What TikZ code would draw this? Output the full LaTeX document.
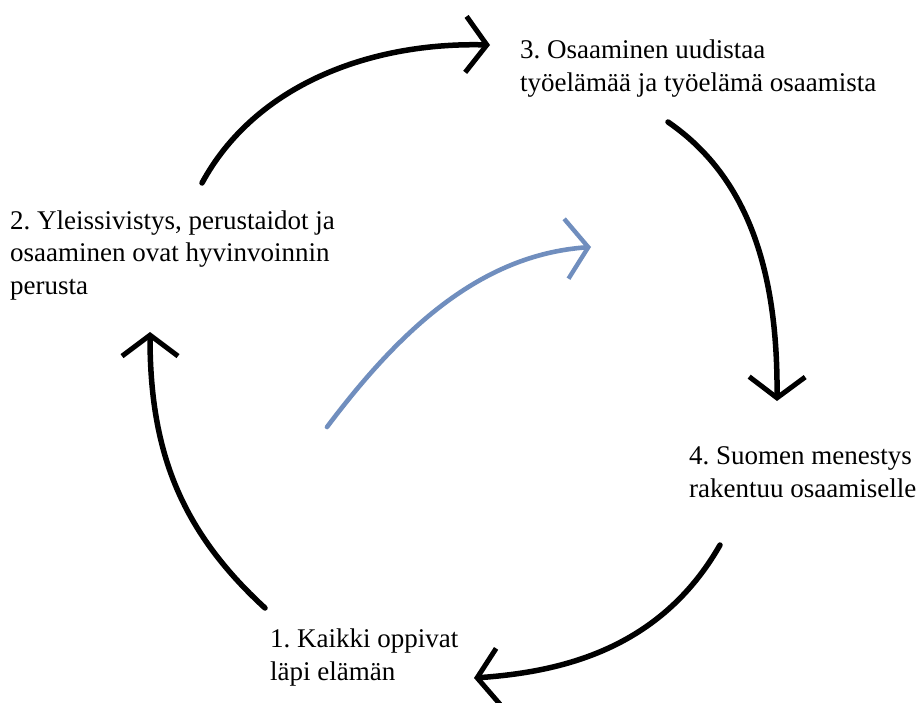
\documentclass[tikz,border=0pt]{standalone}
\usepackage{fontspec}
\setmainfont{Liberation Serif}
\usetikzlibrary{arrows.meta}
\definecolor{cycleblue}{RGB}{112,142,190}
\tikzset{
  lbl/.style={anchor=base west, inner sep=0pt, align=left, font=\fontsize{27}{33}\selectfont\frenchspacing},
  cyc/.style={line width=5.5pt, draw=black, line cap=round,
    -{Straight Barb[length=21pt,width=56pt,line width=5pt]}},
  inner/.style={line width=4.6pt, draw=cycleblue, line cap=round,
    -{Straight Barb[length=22pt,width=60pt,line width=4.4pt]}}
}
\begin{document}
\begin{tikzpicture}[x=1pt,y=-1pt]
\useasboundingbox (0,0) rectangle (921,703);
\fill[white] (0,0) rectangle (921,703);
% labels (anchored at the baseline of their last line)
\node[lbl] (t3) at (520,92) {3. Osaaminen uudistaa\\työelämää ja työelämä osaamista};
\node[lbl] (t2) at (10,295) {2. Yleissivistys, perustaidot ja\\osaaminen ovat hyvinvoinnin\\perusta};
\node[lbl] (t4) at (689,497) {4. Suomen menestys\\rakentuu osaamiselle};
\node[lbl] (t1) at (270,680) {1. Kaikki oppivat\\läpi elämän};
% arrow end points
\coordinate (a1s) at (202,183); \coordinate (a1e) at (490,45);
\coordinate (a2s) at (668,122); \coordinate (a2e) at (777,401);
\coordinate (a3s) at (720,545); \coordinate (a3e) at (474,678);
\coordinate (a4s) at (265,608); \coordinate (a4e) at (150,332);
\coordinate (bs) at (327,427);  \coordinate (be) at (591,247);
% cycle arrows
\draw[cyc] (a1s) .. controls (255,85) and (370,42) .. (a1e);
\draw[cyc] (a2s) .. controls (745,175) and (778,265) .. (a2e);
\draw[cyc] (a3s) .. controls (660,650) and (560,672) .. (a3e);
\draw[cyc] (a4s) .. controls (180,530) and (150,450) .. (a4e);
% inner arrow
\draw[inner] (bs) .. controls (400,330) and (480,255) .. (be);
\end{tikzpicture}
\end{document}
